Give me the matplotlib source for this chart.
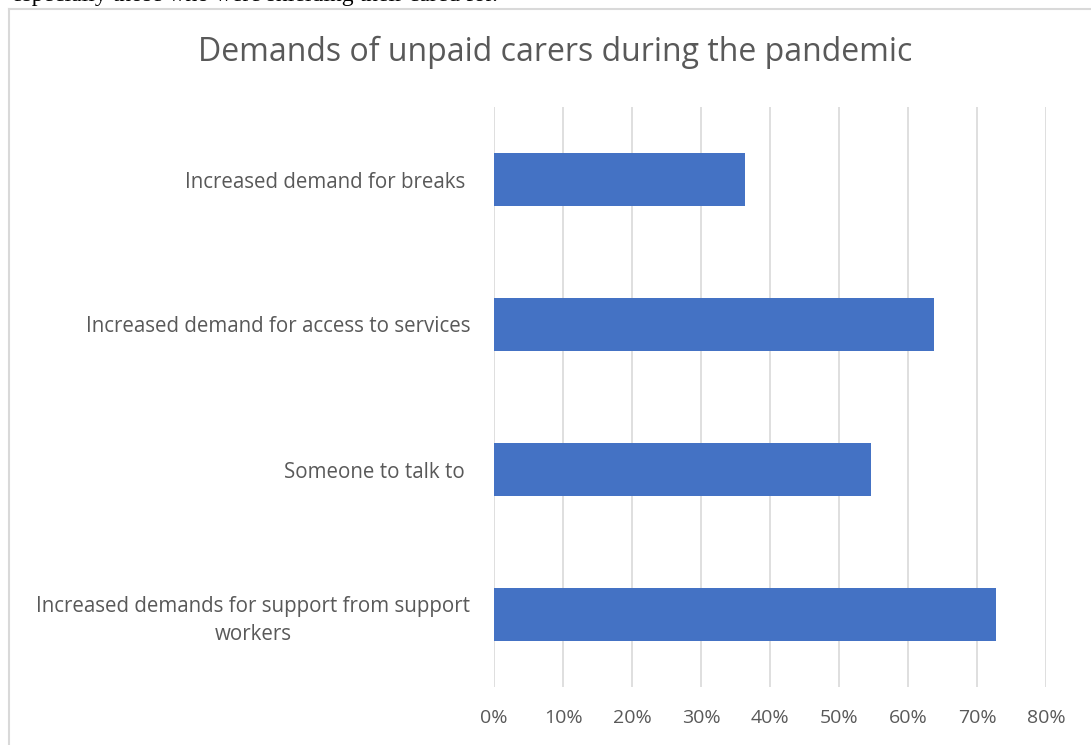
import matplotlib.pyplot as plt
from matplotlib.lines import Line2D

# Data
categories = [
    "Increased demand for breaks ",
    "Increased demand for access to services",
    "Someone to talk to ",
    "Increased demands for support from support\nworkers",
]
values = [0.364, 0.638, 0.546, 0.727]
ticks = [0, 0.1, 0.2, 0.3, 0.4, 0.5, 0.6, 0.7, 0.8]
tick_labels = ["0%", "10%", "20%", "30%", "40%", "50%", "60%", "70%", "80%"]

W, H = 1091, 745
fig = plt.figure(figsize=(W / 100, H / 100), dpi=100)
ax = fig.add_axes([494 / W, 1 - 687 / H, (1046 - 494) / W, 580 / H])

ypos = list(range(len(categories)))
ax.barh(ypos, values, height=0.36, color="#4472c4", zorder=3)
ax.set_ylim(len(categories) - 0.5, -0.5)
ax.set_xlim(0, 0.8)

ax.set_xticks(ticks)
ax.set_xticklabels(tick_labels, family="Open Sans", fontsize=14, color="#595959")
ax.tick_params(axis="x", length=0, pad=16)
ax.grid(axis="x", color="#d9d9d9", linewidth=1.2, zorder=0)

ax.set_yticks(ypos)
ax.set_yticklabels(categories, family="Open Sans", fontsize=14.8, color="#595959",
                   multialignment="center", linespacing=1.45)
ax.tick_params(axis="y", length=0, pad=17)

for s in ax.spines.values():
    s.set_visible(False)

fig.text(555 / W, 1 - 52 / H, "Demands of unpaid carers during the pandemic",
         family="Open Sans", fontsize=23, color="#595959", ha="center", va="center")

# chart frame and cut-off document text above it
fig.add_artist(Line2D([8.5 / W, 1.0], [1 - 8.5 / H, 1 - 8.5 / H], color="#d9d9d9", linewidth=1.5))
fig.add_artist(Line2D([8.5 / W, 8.5 / W], [0, 1 - 8.5 / H], color="#d9d9d9", linewidth=1.5))
fig.text(498 / W, 1 - 1.5 / H, "especially those who were shielding their cared for.",
         family="Liberation Serif", fontsize=17, color="black", ha="right", va="baseline")

fig.savefig("out.png", dpi=100)
